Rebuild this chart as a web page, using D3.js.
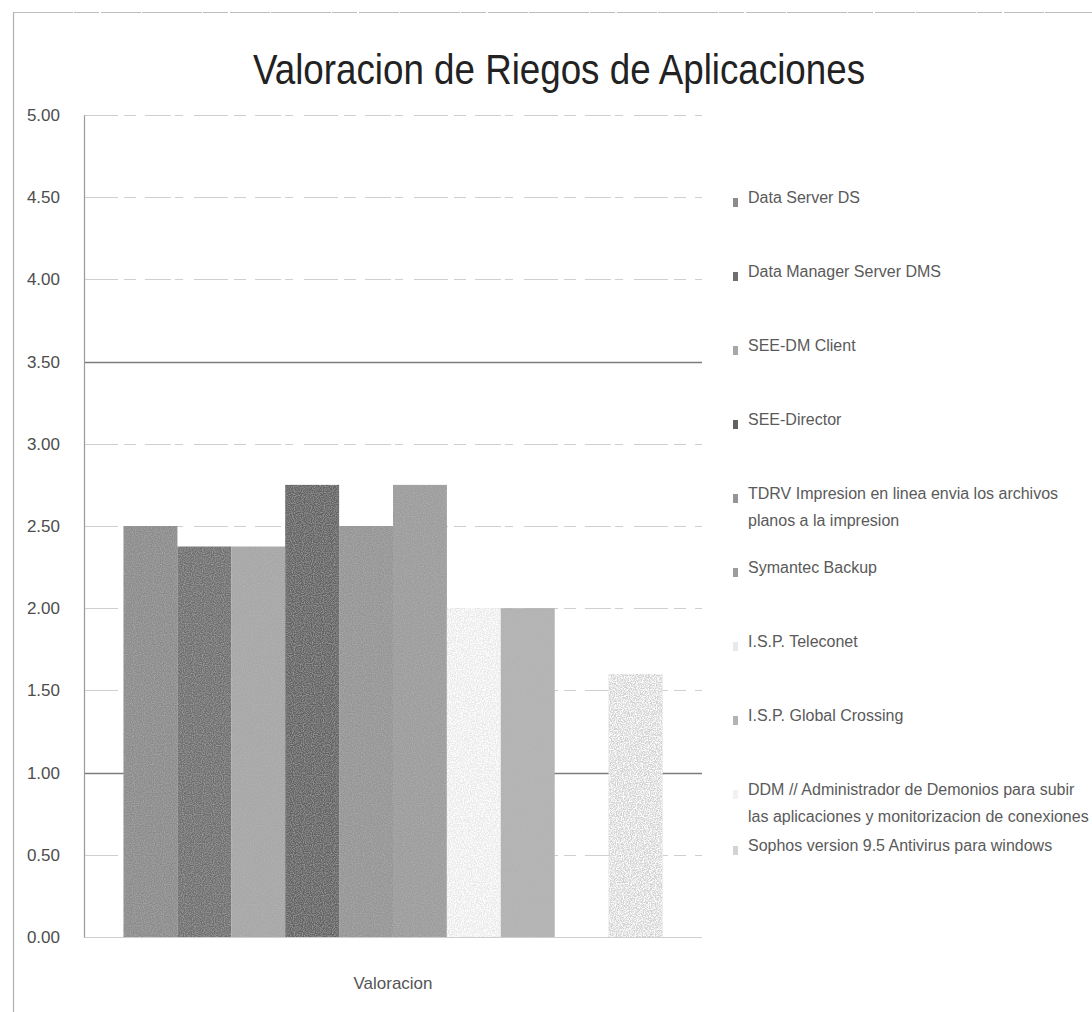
<!DOCTYPE html>
<html>
<head>
<meta charset="utf-8">
<script src="https://cdn.jsdelivr.net/npm/d3@7"></script>
<style>
  html, body { margin: 0; padding: 0; background: #fff; }
  svg { display: block; }
  text { font-family: "Liberation Sans Narrow", "Liberation Sans", "DejaVu Sans Condensed", sans-serif; }
</style>
</head>
<body>
<svg id="chart" width="1092" height="1012"></svg>
<script>
// Chart content
const chartTitle = "Valoracion de Riegos de Aplicaciones";
const categories = ["Valoracion"];
const seriesNames = [
  "Data Server DS",
  "Data Manager Server DMS",
  "SEE-DM Client",
  "SEE-Director",
  "TDRV Impresion en linea envia los archivos|planos a la impresion",
  "Symantec Backup",
  "I.S.P. Teleconet",
  "I.S.P. Global Crossing",
  "DDM // Administrador de Demonios para subir|las aplicaciones y monitorizacion de conexiones",
  "Sophos version 9.5 Antivirus para windows"
];
const seriesValues = [2.50, 2.375, 2.375, 2.75, 2.50, 2.75, 2.00, 2.00, 0.00, 1.60];
const seriesColors = ["#8b8b8b", "#6e6e6e", "#a7a7a7", "#626262", "#959595",
                      "#9c9c9c", "#e9e9e9", "#b3b3b3", "#f2f2f2", "#d3d3d3"];
const yTickValues = [0, 0.5, 1, 1.5, 2, 2.5, 3, 3.5, 4, 4.5, 5];

const svg = d3.select("#chart");

// Plot frame
const plot = { left: 84, right: 702, top: 115, bottom: 937 };

// Grain filters: light speckle for pale bars, faint grain for the rest
const defs = svg.append("defs");
const speck = defs.append("filter").attr("id", "speckle")
  .attr("x", 0).attr("y", 0).attr("width", 1).attr("height", 1);
speck.append("feTurbulence").attr("type", "fractalNoise")
  .attr("baseFrequency", 0.85).attr("numOctaves", 2).attr("seed", 4).attr("result", "n");
speck.append("feColorMatrix").attr("in", "n").attr("type", "matrix")
  .attr("values", "0 0 0 0 1  0 0 0 0 1  0 0 0 0 1  0 0 0 -3.2 2.0").attr("result", "w");
speck.append("feComposite").attr("in", "w").attr("in2", "SourceGraphic").attr("operator", "in").attr("result", "wm");
const sm = speck.append("feMerge");
sm.append("feMergeNode").attr("in", "SourceGraphic");
sm.append("feMergeNode").attr("in", "wm");

const grain = defs.append("filter").attr("id", "grain")
  .attr("x", 0).attr("y", 0).attr("width", 1).attr("height", 1);
grain.append("feTurbulence").attr("type", "fractalNoise")
  .attr("baseFrequency", 0.9).attr("numOctaves", 1).attr("seed", 7).attr("result", "n");
grain.append("feColorMatrix").attr("in", "n").attr("type", "matrix")
  .attr("values", "0 0 0 0 0.5  0 0 0 0 0.5  0 0 0 0 0.5  0 0 0 -1.2 0.75").attr("result", "g");
grain.append("feComposite").attr("in", "g").attr("in2", "SourceGraphic").attr("operator", "in").attr("result", "gm");
const gmg = grain.append("feMerge");
gmg.append("feMergeNode").attr("in", "SourceGraphic");
gmg.append("feMergeNode").attr("in", "gm");

// Outer chart border (left and top edges visible)
svg.append("line").attr("x1", 13.5).attr("x2", 13.5).attr("y1", 12).attr("y2", 1012)
  .attr("stroke", "#b0b0b0").attr("stroke-width", 1.2);
svg.append("line").attr("x1", 13).attr("x2", 1092).attr("y1", 12.5).attr("y2", 12.5)
  .attr("stroke", "#bdbdbd").attr("stroke-width", 1.2).attr("stroke-dasharray", "60 1 25 2 40 1");

// Title, condensed to the chart's title width
svg.append("text")
  .attr("x", 559).attr("y", 84)
  .attr("text-anchor", "middle")
  .attr("font-size", 42)
  .attr("fill", "#222")
  .attr("textLength", 612)
  .attr("lengthAdjust", "spacingAndGlyphs")
  .text(chartTitle);

// Scales
const y = d3.scaleLinear().domain([0, 5]).range([plot.bottom, plot.top]);
const x0 = d3.scaleBand().domain(categories).range([plot.left, plot.right])
  .paddingInner(0).paddingOuter(0.0733);
const x1 = d3.scaleBand().domain(seriesNames).range([0, x0.bandwidth()]).padding(0);
const color = d3.scaleOrdinal().domain(seriesNames).range(seriesColors);

// Gridlines
const emphasised = new Set([1, 3.5]);
svg.append("g")
  .selectAll("line")
  .data(yTickValues)
  .join("line")
  .attr("x1", plot.left).attr("x2", plot.right)
  .attr("y1", d => Math.round(y(d)) + 0.5).attr("y2", d => Math.round(y(d)) + 0.5)
  .attr("stroke", d => emphasised.has(d) ? "#7d7d7d" : "#cfcfcf")
  .attr("stroke-width", d => emphasised.has(d) ? 1.6 : 1)
  .attr("stroke-dasharray", d => (emphasised.has(d) || d === 0) ? null : "34 6 12 9 26 4 8 11");

// Y axis (labels only, with the plot's left edge line)
const yAxis = d3.axisLeft(y).tickValues(yTickValues).tickFormat(d3.format(".2f")).tickSize(0).tickPadding(24);
const yg = svg.append("g").attr("transform", `translate(${plot.left},0)`).call(yAxis);
yg.select(".domain").attr("stroke", "#9a9a9a").attr("stroke-width", 1.2);
yg.selectAll("text").attr("font-size", 17).attr("fill", "#4d4d4d")
  .style("font-family", "'Liberation Sans Narrow', 'Liberation Sans', sans-serif");

// Bars
const catG = svg.append("g")
  .selectAll("g")
  .data(categories)
  .join("g")
  .attr("transform", d => `translate(${x0(d)},0)`);

catG.selectAll("rect")
  .data(() => seriesNames.map((name, i) => ({ name, value: seriesValues[i] })))
  .join("rect")
  .attr("x", d => x1(d.name))
  .attr("y", d => y(d.value))
  .attr("width", x1.bandwidth())
  .attr("height", d => y(0) - y(d.value))
  .attr("fill", d => color(d.name))
  .attr("filter", d => d3.hsl(color(d.name)).l > 0.8 ? "url(#speckle)" : "url(#grain)");

// X axis category label
const xAxis = d3.axisBottom(x0).tickSize(0).tickPadding(40);
const xg = svg.append("g").attr("transform", `translate(0,${plot.bottom})`).call(xAxis);
xg.select(".domain").remove();
xg.selectAll("text").attr("font-size", 17).attr("fill", "#555")
  .style("font-family", "'Liberation Sans Narrow', 'Liberation Sans', sans-serif");

// Legend
const legendX = 733;
const legendTop = 203;
const legendStep = 74;
const lineH = 27;
const legend = svg.append("g");
let prevY = legendTop, prevLines = 1;
seriesNames.forEach((name, i) => {
  const lines = name.split("|");
  let yy;
  if (i === 0) yy = legendTop;
  else if (i < seriesNames.length - 1) yy = legendTop + i * legendStep;
  else yy = prevY + prevLines * lineH + 2;
  const g = legend.append("g").attr("transform", `translate(${legendX},${yy})`);
  g.append("rect").attr("x", 0).attr("y", -5).attr("width", 5).attr("height", 9)
    .attr("fill", color(name));
  g.append("text")
    .attr("x", 15).attr("y", 0).attr("dy", "0.35em")
    .attr("font-size", 16).attr("fill", "#5a5a5a")
    .selectAll("tspan")
    .data(lines)
    .join("tspan")
    .attr("x", 15)
    .attr("dy", (d, k) => k === 0 ? 0 : lineH)
    .text(d => d);
  prevY = yy; prevLines = lines.length;
});
</script>
</body>
</html>
